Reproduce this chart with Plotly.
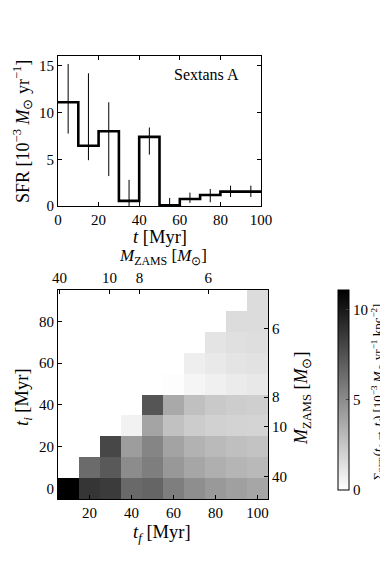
import plotly.graph_objs as go

# star formation history of Sextans A (10 Myr bins)
bin_edges = [0, 10, 20, 30, 40, 50, 60, 70, 80, 90, 100]
bin_centers = [5, 15, 25, 35, 45, 55, 65, 75, 85, 95]
sfr = [11.1, 6.45, 8.0, 0.55, 7.4, 0.08, 0.75, 1.18, 1.54, 1.54]
sfr_hi = [15.2, 14.2, 11.1, 2.8, 8.4, 0.86, 1.43, 1.82, 2.18, 2.18]
sfr_lo = [7.75, 4.9, 3.2, 0.0, 5.5, 0.0, 0.33, 0.4, 0.96, 0.96]

# mean surface SFR between t_i (rows) and t_f (columns)
t_f = [10, 20, 30, 40, 50, 60, 70, 80, 90, 100]
t_i = [0, 10, 20, 30, 40, 50, 60, 70, 80, 90]
sigma_sfr = [
    [11.1, 8.78, 8.52, 6.53, 6.70, 5.60, 4.90, 4.44, 4.12, 3.86],
    [None, 6.45, 7.23, 5.00, 5.60, 4.50, 3.87, 3.49, 3.24, 3.05],
    [None, None, 8.00, 4.28, 5.32, 4.01, 3.36, 2.99, 2.79, 2.63],
    [None, None, None, 0.55, 3.98, 2.68, 2.20, 1.99, 1.92, 1.86],
    [None, None, None, None, 7.40, 3.74, 2.74, 2.35, 2.19, 2.08],
    [None, None, None, None, None, 0.08, 0.42, 0.67, 0.89, 1.02],
    [None, None, None, None, None, None, 0.75, 0.97, 1.16, 1.25],
    [None, None, None, None, None, None, None, 1.18, 1.36, 1.42],
    [None, None, None, None, None, None, None, None, 1.54, 1.54],
    [None, None, None, None, None, None, None, None, None, 1.54],
]

# ZAMS mass whose lifetime matches the given time
mzams_labels = ['40', '10', '8', '6']
mzams_life = [5.7, 29.5, 43.8, 76.6]

FONT = "Liberation Serif"
MSUN = "<i>M</i><sub>⊙</sub>"
MZAMS = "<i>M</i><sub>ZAMS</sub> [" + MSUN + "]"

# page has an 8px body margin, so the figure is a bit smaller than the window
PAD = 8
W, H = 388 - PAD, 564 - 2 * PAD


def px(x):
    return (x - PAD) / W


def py(y):
    return 1 - (y - PAD) / H


step_y = sfr + [sfr[-1]]
err_up = [h - v for h, v in zip(sfr_hi, sfr)]
err_dn = [v - l for v, l in zip(sfr, sfr_lo)]

fig = go.Figure()

fig.add_trace(go.Scatter(
    x=bin_centers, y=sfr, mode='markers',
    marker=dict(size=1, color='black'),
    error_y=dict(type='data', symmetric=False, array=err_up, arrayminus=err_dn,
                 color='black', thickness=1, width=0),
    xaxis='x', yaxis='y', showlegend=False, hoverinfo='skip'
))
fig.add_trace(go.Scatter(
    x=bin_edges, y=step_y, mode='lines', line_shape='hv',
    line=dict(color='black', width=2.6),
    xaxis='x', yaxis='y', showlegend=False
))

fig.add_trace(go.Heatmap(
    x=t_f, y=t_i, z=sigma_sfr,
    colorscale=[[0, 'white'], [1, 'black']],
    zmin=0, zmax=max(sfr),
    xaxis='x2', yaxis='y2',
    colorbar=dict(
        x=px(338), xanchor='left', xpad=0, y=py(490), yanchor='bottom', ypad=0,
        thickness=11, len=200, lenmode='pixels',
        outlinewidth=1, outlinecolor='black',
        tickvals=[0, 5, 10], ticks='inside', ticklen=3, tickcolor='#444',
        tickfont=dict(family=FONT, size=15, color='black'),
    )
))

# dummy trace so the M_ZAMS axes get drawn
fig.add_trace(go.Scatter(x=[], y=[], xaxis='x3', yaxis='y3', showlegend=False))

axis_style = dict(
    showline=True, linecolor='black', linewidth=1, mirror='ticks', automargin=False,
    ticks='inside', ticklen=4, tickcolor='black', showgrid=False, zeroline=False,
    tickfont=dict(family=FONT, size=15, color='black'),
)
plain = {**axis_style, 'mirror': False}


def label(text, x, y, size=18.5, angle=0):
    return dict(text=text, x=px(x), y=py(y), xref='paper', yref='paper',
                xanchor='center', yanchor='middle', textangle=angle, showarrow=False,
                font=dict(family=FONT, size=size, color='black'))


fig.update_layout(
    width=W, height=H,
    margin=dict(l=0, r=0, t=0, b=0),
    paper_bgcolor='white', plot_bgcolor='white',
    font=dict(family=FONT, color='black'),
    xaxis=dict(domain=[px(58), px(261)], anchor='y', range=[0, 100],
               tickvals=[0, 20, 40, 60, 80, 100], **axis_style),
    yaxis=dict(domain=[py(206), py(56)], anchor='x', range=[0, 16.05],
               tickvals=[0, 5, 10, 15], **axis_style),
    xaxis2=dict(domain=[px(58), px(268)], anchor='y2', range=[5, 105],
                tickvals=[20, 40, 60, 80, 100], **plain),
    yaxis2=dict(domain=[py(499), py(290)], anchor='x2', range=[-5, 95],
                tickvals=[0, 20, 40, 60, 80], **plain),
    xaxis3=dict(overlaying='x2', anchor='y2', side='top', range=[5, 105],
                tickvals=mzams_life, ticktext=mzams_labels, **plain),
    yaxis3=dict(overlaying='y2', anchor='x2', side='right', range=[-5, 95],
                tickvals=mzams_life, ticktext=mzams_labels, **plain),
    annotations=[
        dict(text="Sextans A", x=73, y=14.1, xref='x', yref='y',
             showarrow=False, font=dict(family=FONT, size=16, color='black')),
        label("SFR [10<sup>−3</sup> " + MSUN + " yr<sup>−1</sup>]", 22, 132, size=18, angle=-90),
        label("<i>t</i> [Myr]", 160, 237),
        label(MZAMS, 163, 257, size=17),
        label("<i>t<sub>i</sub></i> [Myr]", 23, 397, angle=-90),
        label("<i>t<sub>f</sub></i> [Myr]", 162, 533),
        label(MZAMS, 302, 398, size=18, angle=-90),
        label("Σ<sub>SFR</sub>(<i>t<sub>f</sub></i> → <i>t<sub>f</sub></i>) [10<sup>−3</sup> "
              + MSUN + " yr<sup>−1</sup> kpc<sup>−2</sup>]", 378, 392, size=13, angle=-90),
    ],
)

fig.write_html("out.html")
